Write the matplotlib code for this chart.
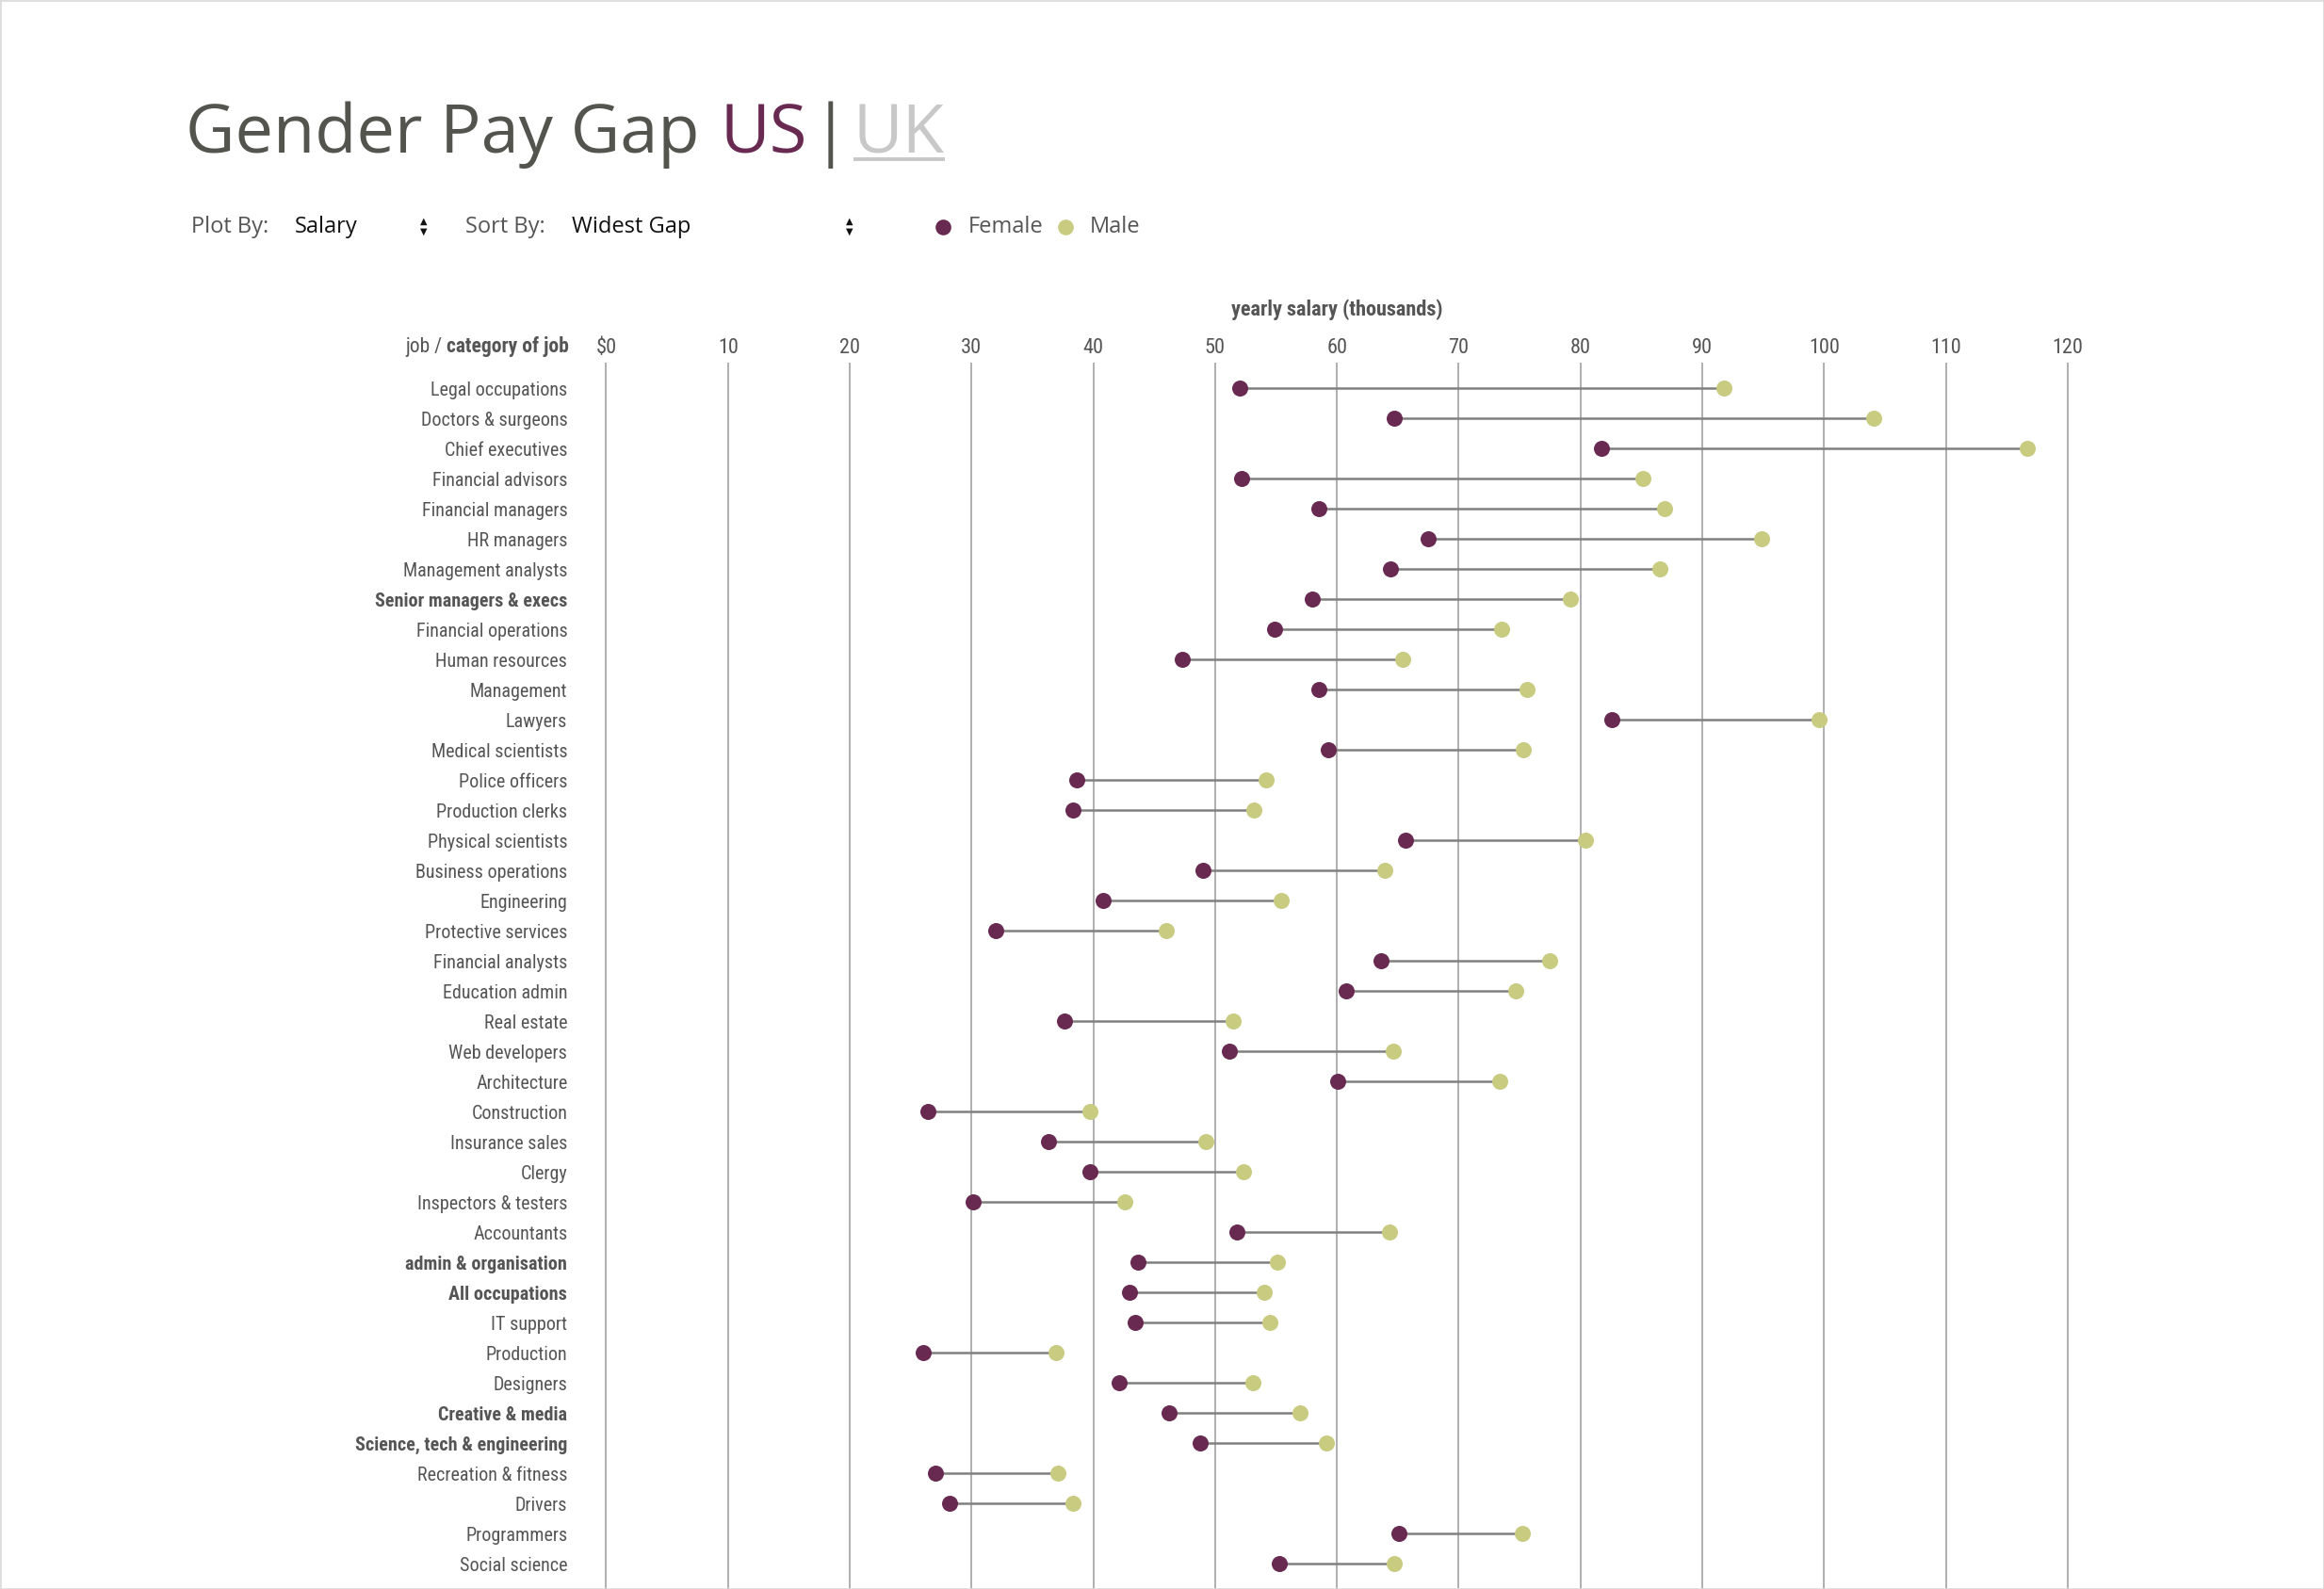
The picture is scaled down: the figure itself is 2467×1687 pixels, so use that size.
import matplotlib
matplotlib.use('Agg')
import matplotlib.pyplot as plt
from matplotlib.patches import Rectangle
from matplotlib.lines import Line2D
from matplotlib import font_manager
import matplotlib.transforms as mtransforms

jobs = ['Legal occupations', 'Doctors & surgeons', 'Chief executives', 'Financial advisors',
        'Financial managers', 'HR managers', 'Management analysts', 'Senior managers & execs',
        'Financial operations', 'Human resources', 'Management', 'Lawyers', 'Medical scientists',
        'Police officers', 'Production clerks', 'Physical scientists', 'Business operations',
        'Engineering', 'Protective services', 'Financial analysts', 'Education admin',
        'Real estate', 'Web developers', 'Architecture', 'Construction', 'Insurance sales',
        'Clergy', 'Inspectors & testers', 'Accountants', 'admin & organisation',
        'All occupations', 'IT support', 'Production', 'Designers', 'Creative & media',
        'Science, tech & engineering', 'Recreation & fitness', 'Drivers', 'Programmers',
        'Social science']
female = [52.0, 64.7, 81.7, 52.2, 58.5, 67.5, 64.4, 58.0, 54.9, 47.3, 58.5, 82.6, 59.3,
          38.6, 38.3, 65.6, 49.0, 40.8, 32.0, 63.6, 60.8, 37.6, 51.2, 60.1, 26.4, 36.3,
          39.7, 30.1, 51.8, 43.7, 43.0, 43.4, 26.0, 42.1, 46.2, 48.8, 27.0, 28.2, 65.1, 55.3]
male = [91.8, 104.1, 116.7, 85.1, 86.9, 94.9, 86.5, 79.2, 73.5, 65.4, 75.6, 99.6, 75.3,
        54.2, 53.2, 80.4, 63.9, 55.4, 46.0, 77.5, 74.7, 51.5, 64.6, 73.4, 39.7, 49.2,
        52.3, 42.6, 64.3, 55.1, 54.0, 54.5, 36.9, 53.1, 57.0, 59.1, 37.1, 38.3, 75.2, 64.7]
category_jobs = ['Senior managers & execs', 'admin & organisation', 'All occupations',
                 'Creative & media', 'Science, tech & engineering']
xticks = [0, 10, 20, 30, 40, 50, 60, 70, 80, 90, 100, 110, 120]
xtick_labels = ['$0', '10', '20', '30', '40', '50', '60', '70', '80', '90', '100', '110', '120']

FEMALE_C = '#692a52'
MALE_C = '#c8cb80'
TEXT_C = '#555555'

# pick a narrow font if one is installed
names = {f.name for f in font_manager.fontManager.ttflist}
dejavu_cond = any(f.name == 'DejaVu Sans' and f.stretch == 'condensed'
                  for f in font_manager.fontManager.ttflist)
narrow_kw = {'family': ['Lato', 'DejaVu Sans']}
for cand in ['Roboto Condensed', 'Liberation Sans Narrow', 'Open Sans Condensed',
             'Noto Sans Condensed', 'DejaVu Sans Condensed']:
    if cand in names:
        narrow_kw = {'family': [cand, 'DejaVu Sans']}
        break
else:
    if dejavu_cond:
        narrow_kw = {'family': ['DejaVu Sans'], 'stretch': 'condensed'}

W, H = 2467, 1687
fig = plt.figure(figsize=(W / 100, H / 100), dpi=100)
fig.patch.set_facecolor('white')
fig.patches.append(Rectangle((0, 0), 1, 1, transform=fig.transFigure, fill=False,
                             edgecolor='#dddddd', lw=2))

# layout measured on the reference at 1568 px wide
S = W / 1568.0
px = lambda v: v * S
unit = (1395 - 409) / 120.0
x_lo, x_hi = -2, 122
left = px(409 + x_lo * unit) / W
right = px(409 + x_hi * unit) / W
ax = fig.add_axes([left, 0, right - left, 1 - px(245) / H])
row = 20.33
ax.set_xlim(x_lo, x_hi)
ax.set_ylim((1072 - 262) / row, (245 - 262) / row)

for sp in ax.spines.values():
    sp.set_visible(False)
for t in xticks:
    ax.axvline(t, color='#9a9a9a', lw=1.1, zorder=0)

ys = list(range(len(jobs)))
for y, f, m in zip(ys, female, male):
    ax.plot([f, m], [y, y], color='#808080', lw=1.8, zorder=1)
ax.scatter(female, ys, s=150, color=FEMALE_C, zorder=3, linewidths=0)
ax.scatter(male, ys, s=150, color=MALE_C, zorder=3, linewidths=0)

ax.xaxis.tick_top()
ax.set_xticks(xticks)
ax.set_xticklabels(xtick_labels, fontsize=16, color=TEXT_C, **narrow_kw)
ax.tick_params(axis='x', length=0, pad=4)
ax.set_yticks(ys)
ax.set_yticklabels(jobs, fontsize=14.5, color=TEXT_C, **narrow_kw)
ax.tick_params(axis='y', length=0, pad=11)
for lab in ax.get_yticklabels():
    if lab.get_text() in category_jobs:
        lab.set_fontweight('bold')

# axis title
blend = mtransforms.blended_transform_factory(ax.transData, fig.transFigure)
fig.text(60, 1 - px(209) / H, 'yearly salary (thousands)', transform=blend, ha='center',
         va='center', fontsize=16, fontweight='bold', color=TEXT_C, **narrow_kw)

renderer = fig.canvas.get_renderer()

def width_of(t):
    return t.get_window_extent(renderer=renderer).width

# "job / category of job"
yj = 1 - px(234) / H
xr = px(384) / W
t2 = fig.text(xr, yj, 'category of job', ha='right', va='center',
              fontsize=15.5, fontweight='bold', color=TEXT_C, **narrow_kw)
fig.text(xr - width_of(t2) / W, yj, 'job / ', ha='right', va='center',
         fontsize=15.5, color=TEXT_C, **narrow_kw)

# title pieces
tx = px(125) / W
ty = 1 - px(103) / H
title_font = ['Open Sans', 'DejaVu Sans']
parts = [('Gender Pay Gap ', '#54544e', 2), ('US', FEMALE_C, 3), ('|', '#54544e', 3),
         ('UK', '#c8c8c8', 0)]
for txt, col, gap in parts:
    t = fig.text(tx, ty, txt, ha='left', va='baseline', family=title_font,
                 fontsize=52, color=col)
    w = width_of(t) / W
    if txt == 'UK':
        fig.patches.append(Rectangle((tx, ty - px(6) / H), w, px(3) / H,
                                     transform=fig.transFigure, color='#c8c8c8', lw=0))
    tx += w + px(gap) / W

# control row
cy = 1 - px(153) / H
ctl = dict(va='center', family=['Open Sans', 'DejaVu Sans'], fontsize=17)
fig.text(px(129) / W, cy, 'Plot By:', color=TEXT_C, **ctl)
fig.text(px(199) / W, cy, 'Salary', color='#111111', **ctl)
fig.text(px(314) / W, cy, 'Sort By:', color=TEXT_C, **ctl)
fig.text(px(386) / W, cy, 'Widest Gap', color='#111111', **ctl)
for ax_x in (286, 573):
    fig.text(px(ax_x) / W, cy + px(3.5) / H, '▲', ha='center', va='center', fontsize=7, color='#111111')
    fig.text(px(ax_x) / W, cy - px(3.5) / H, '▼', ha='center', va='center', fontsize=7, color='#111111')
fig.add_artist(Line2D([px(636) / W], [cy], marker='o', markersize=12, color=FEMALE_C,
                      markeredgewidth=0, transform=fig.transFigure))
fig.text(px(653) / W, cy, 'Female', color=TEXT_C, **ctl)
fig.add_artist(Line2D([px(719) / W], [cy], marker='o', markersize=12, color=MALE_C,
                      markeredgewidth=0, transform=fig.transFigure))
fig.text(px(735) / W, cy, 'Male', color=TEXT_C, **ctl)

fig.savefig('out.png', dpi=100)
